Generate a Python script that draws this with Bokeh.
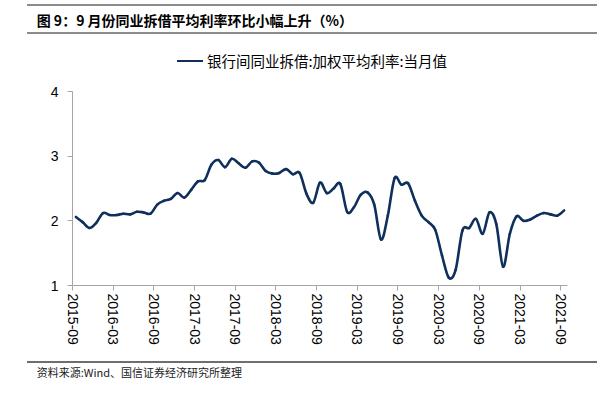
import numpy as np
from bokeh.plotting import figure
from bokeh.layouts import column
from bokeh.models import Div, FixedTicker, Range1d
from bokeh.embed import file_html
from bokeh.resources import INLINE

# ---------------- data ----------------
title_text = "图 9：9 月份同业拆借平均利率环比小幅上升（%）"
series_name = "银行间同业拆借:加权平均利率:当月值"
source_text = "资料来源:Wind、国信证券经济研究所整理"

tick_labels = ["2015-09", "2016-03", "2016-09", "2017-03", "2017-09", "2018-03",
               "2018-09", "2019-03", "2019-09", "2020-03", "2020-09", "2021-03",
               "2021-09"]
y_ticks = [1, 2, 3, 4]

# monthly values 2015-09 .. 2021-09
rate = [2.06, 1.98, 1.89, 1.97, 2.12, 2.09, 2.09, 2.11, 2.10, 2.14, 2.13, 2.11,
        2.25, 2.31, 2.34, 2.43, 2.36, 2.48, 2.61, 2.63, 2.87, 2.94, 2.83, 2.96,
        2.89, 2.82, 2.92, 2.90, 2.77, 2.73, 2.74, 2.80, 2.72, 2.74, 2.42, 2.28,
        2.59, 2.43, 2.50, 2.57, 2.14, 2.21, 2.40, 2.44, 2.25, 1.71, 2.08, 2.66,
        2.56, 2.58, 2.31, 2.08, 1.98, 1.86, 1.46, 1.12, 1.24, 1.85, 1.89, 2.03,
        1.80, 2.13, 1.95, 1.29, 1.80, 2.07, 2.00, 2.02, 2.08, 2.12, 2.10, 2.08,
        2.16]

# ---------------- styling / layout ----------------
W = 609
H_HEAD, H_MAIN, H_FOOT = 78, 278, 41
LINE_COLOR = "#0f2f5c"
AXIS_COLOR = "#a6a6a6"
CJK = "'Noto Sans CJK SC', 'Noto Sans', sans-serif"


def abs_box(left, top, width, height, color):
    return (f'<div style="position:absolute;left:{left}px;top:{top}px;'
            f'width:{width}px;height:{height}px;background:{color}"></div>')


def abs_text(left, mid_y, text, size, weight="normal", color="#000"):
    return (f'<div style="position:absolute;left:{left}px;top:{mid_y}px;'
            f'transform:translateY(-50%);font-family:{CJK};font-size:{size}px;'
            f'font-weight:{weight};line-height:1;white-space:nowrap;'
            f'color:{color}">{text}</div>')


def panel(h, parts):
    html = (f'<div style="position:relative;width:{W}px;height:{h}px;'
            f'overflow:hidden;background:#ffffff;margin:0;padding:0">'
            + "".join(parts) + '</div>')
    return Div(text=html, width=W, height=h, margin=(0, 0, 0, 0))


# ---------- header: rules, title, legend ----------
header = panel(H_HEAD, [
    abs_box(27, 4, 570, 2, "#8c8c8c"),
    abs_box(27, 32.3, 570, 2, "#8c8c8c"),
    abs_text(36.7, 20, title_text, 14, "bold"),
    abs_box(177, 59.7, 26, 2.6, LINE_COLOR),
    abs_text(207, 61, series_name, 14.5),
])

# ---------- main chart ----------
n = len(rate)
months_per_tick = 6
xs = np.arange(n) + 0.5          # monthly values sit mid-month
ys = np.array(rate, dtype=float)
tick_pos = [i * months_per_tick for i in range(len(tick_labels))]

p = figure(width=W, height=H_MAIN, output_backend="svg", toolbar_location=None,
           title=None, x_range=Range1d(0, n),
           y_range=Range1d(y_ticks[0], y_ticks[-1]),
           min_border_left=72, min_border_right=42, min_border_top=13,
           min_border_bottom=71, margin=(0, 0, 0, 0))
p.outline_line_color = None
p.xgrid.visible = False
p.ygrid.visible = False
p.background_fill_color = "white"
p.border_fill_color = "white"

# smoothed line (Catmull-Rom -> cubic bezier), like a smoothed spreadsheet line
xp = np.concatenate([[xs[0]], xs, [xs[-1]]])
yp = np.concatenate([[ys[0]], ys, [ys[-1]]])
x0 = xp[1:-2]; y0 = yp[1:-2]
x1 = xp[2:-1]; y1 = yp[2:-1]
cx0 = x0 + (x1 - xp[:-3]) / 6.0
cy0 = y0 + (y1 - yp[:-3]) / 6.0
cx1 = x1 - (xp[3:] - x0) / 6.0
cy1 = y1 - (yp[3:] - y0) / 6.0
p.bezier(x0=x0, y0=y0, x1=x1, y1=y1, cx0=cx0, cy0=cy0, cx1=cx1, cy1=cy1,
         line_color=LINE_COLOR, line_width=2.6, line_cap="round")

for ax in (p.xaxis, p.yaxis):
    ax.axis_line_color = AXIS_COLOR
    ax.major_tick_line_color = AXIS_COLOR
    ax.minor_tick_line_color = None
    ax.major_tick_in = 0
    ax.major_tick_out = 5
    ax.major_label_text_font = "Liberation Sans"
    ax.major_label_text_font_size = "14px"
    ax.major_label_text_color = "#000000"

p.xaxis.ticker = FixedTicker(ticks=tick_pos)
p.xaxis.major_label_overrides = {t: lab for t, lab in zip(tick_pos, tick_labels)}
p.xaxis.major_label_orientation = "vertical"
p.xaxis.major_label_standoff = 3
p.yaxis.ticker = FixedTicker(ticks=y_ticks)
p.yaxis.major_label_standoff = 9

# ---------- footer: rule and source ----------
footer = panel(H_FOOT, [
    abs_box(27, 4.7, 570, 2, "#6e6e6e"),
    abs_text(36.7, 15.7, source_text, 11, color="#222"),
])

layout = column(header, p, footer, spacing=0, margin=(0, 0, 0, 0))
open("out.html", "w").write(file_html(layout, INLINE))
